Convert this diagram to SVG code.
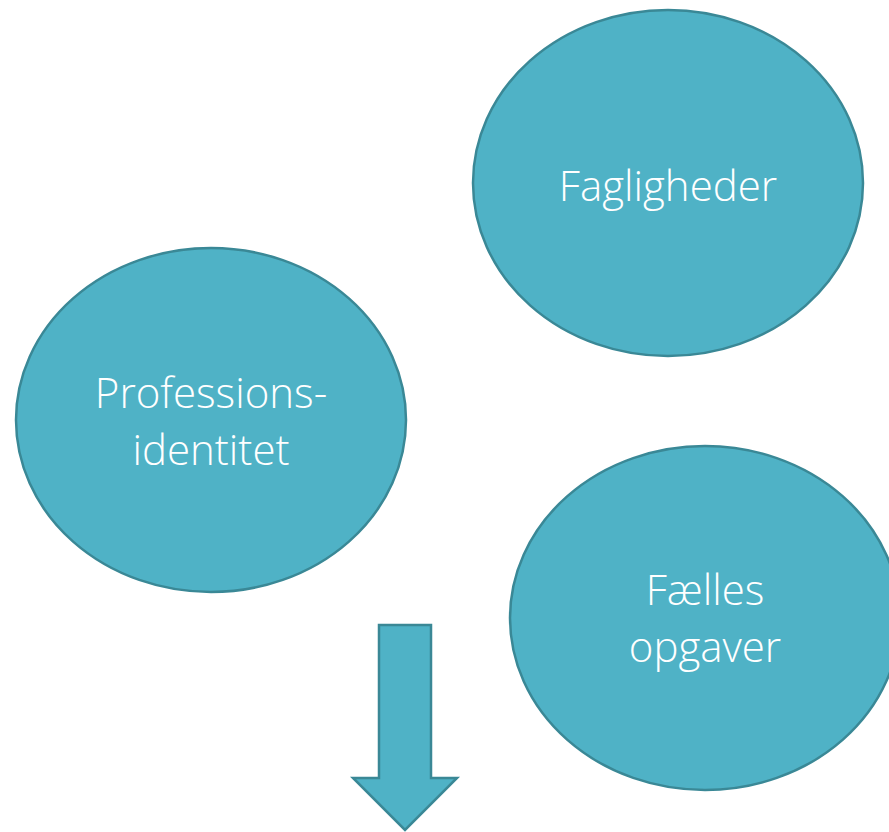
<svg xmlns="http://www.w3.org/2000/svg" width="889" height="832" viewBox="0 0 889 832">
<style>
.n{fill:#4FB2C6;stroke:#3A8896;stroke-width:2.5}
.t{font-family:"Open Sans","Liberation Sans",sans-serif;font-weight:300;font-size:42px;fill:#FFFFFF;text-anchor:middle}
</style>
<rect width="889" height="832" fill="#FFFFFF"/>
<g id="fagligheder">
<ellipse class="n" cx="668" cy="183" rx="195" ry="173"/>
<text class="t" x="668" y="201">Fagligheder</text>
</g>
<g id="professionsidentitet">
<ellipse class="n" cx="211" cy="420" rx="195" ry="172"/>
<text class="t" x="211" y="408">Professions-</text>
<text class="t" x="211" y="465">identitet</text>
</g>
<g id="faelles-opgaver">
<ellipse class="n" cx="705" cy="618" rx="195" ry="172"/>
<text class="t" x="705" y="605">Fælles</text>
<text class="t" x="705" y="662">opgaver</text>
</g>
<g id="connectors">
<polygon class="n" points="379,625 431,625 431,778 457,778 405,830 353,778 379,778"/>
</g>
</svg>
